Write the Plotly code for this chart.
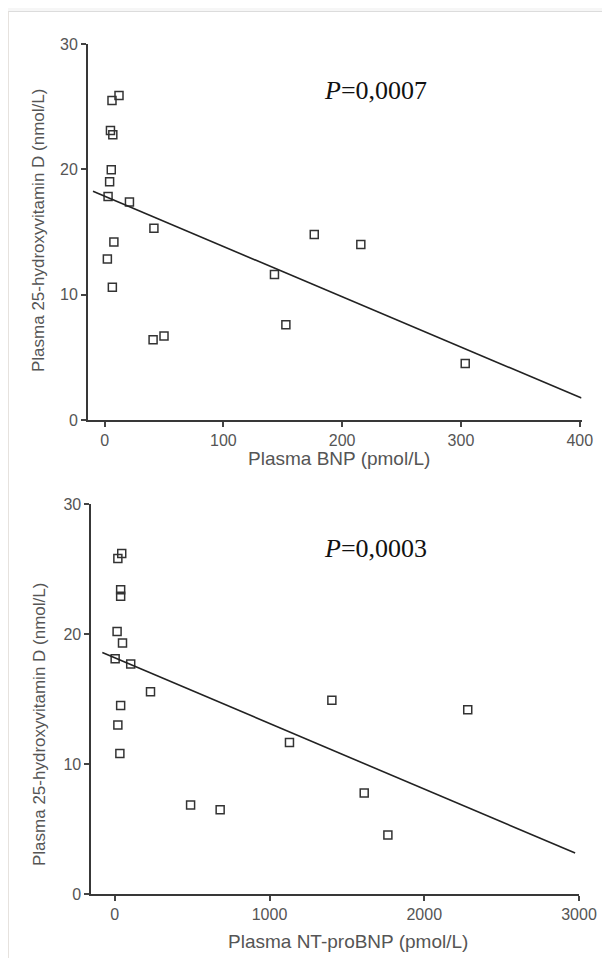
import plotly.graph_objects as go

# the page body has an 8px margin, so the figure starts at (8, 8) in the window
OFF = 8
W, H = 610 - 2 * OFF, 966 - 2 * OFF

# ---- data ----
bnp = [12.1, 6.2, 4.9, 6.9, 5.6, 4.2, 2.9, 20.9, 41.5, 7.8, 2.3, 6.5, 40.8, 50.0, 143.0, 152.6, 176.5, 215.7, 303.6]
vitd_bnp = [25.9, 25.5, 23.1, 22.75, 19.96, 19.0, 17.84, 17.4, 15.3, 14.2, 12.85, 10.6, 6.4, 6.7, 11.6, 7.6, 14.8, 14.0, 4.5]

ntprobnp = [45, 20, 38, 38, 15, 50, 2.5, 103, 231, 38, 20, 33, 490, 681, 1129, 1403, 1612, 1765, 2281]
vitd_nt = [26.2, 25.8, 23.4, 22.9, 20.2, 19.3, 18.1, 17.7, 15.55, 14.5, 13.0, 10.8, 6.84, 6.48, 11.66, 14.9, 7.76, 4.53, 14.17]

# regression lines: intercept, slope, x extent
fit_bnp_intercept, fit_bnp_slope = 17.85, -0.0401
fit_bnp_x = [-9.8, 401.5]
fit_nt_intercept, fit_nt_slope = 18.17, -0.00505
fit_nt_x = [-80.5, 2975]

x_ticks_bnp = [0, 100, 200, 300, 400]
x_ticks_nt = [0, 1000, 2000, 3000]
y_ticks = [0, 10, 20, 30]

p_text_bnp = "<i>P</i>=0,0007"
p_text_nt = "<i>P</i>=0,0003"
x_title_bnp = "Plasma BNP (pmol/L)"
x_title_nt = "Plasma NT-proBNP (pmol/L)"
y_title = "Plasma 25-hydroxyvitamin D (nmol/L)"

# ---- figure ----
def px(x):
    return (x - OFF) / W

def py(y):
    return 1 - (y - OFF) / H

fig = go.Figure()
marker = dict(symbol="square-open", size=8, color="#333", line=dict(width=1.5, color="#333"))
line = dict(color="#222", width=1.6)

fig.add_trace(go.Scatter(x=bnp, y=vitd_bnp, mode="markers", marker=marker, xaxis="x", yaxis="y", showlegend=False))
fig.add_trace(go.Scatter(x=fit_bnp_x, y=[fit_bnp_intercept + fit_bnp_slope * v for v in fit_bnp_x],
                         mode="lines", line=line, xaxis="x", yaxis="y", showlegend=False))
fig.add_trace(go.Scatter(x=ntprobnp, y=vitd_nt, mode="markers", marker=marker, xaxis="x2", yaxis="y2", showlegend=False))
fig.add_trace(go.Scatter(x=fit_nt_x, y=[fit_nt_intercept + fit_nt_slope * v for v in fit_nt_x],
                         mode="lines", line=line, xaxis="x2", yaxis="y2", showlegend=False))

tickfont = dict(family="Liberation Sans, Arial, sans-serif", size=16, color="#555")
common = dict(showline=True, linecolor="#383838", linewidth=2, ticks="outside", ticklen=5, tickwidth=1.5,
              tickcolor="#444", showgrid=False, zeroline=False, tickfont=tickfont, automargin=False)

fig.update_layout(
    width=W, height=H,
    margin=dict(l=0, r=0, t=0, b=0),
    paper_bgcolor="#f6f6f6",
    plot_bgcolor="rgba(0,0,0,0)",
    xaxis=dict(domain=[px(88), px(581.5)], range=[-14, 401.5], tickvals=x_ticks_bnp, anchor="y", **common),
    yaxis=dict(domain=[py(420), py(44)], range=[0, 30], tickvals=y_ticks, anchor="x", **common),
    xaxis2=dict(domain=[px(91.4), px(579)], range=[-151, 3000], tickvals=x_ticks_nt, anchor="y2", **common),
    yaxis2=dict(domain=[py(894), py(504)], range=[0, 30], tickvals=y_ticks, anchor="x2", **common),
    shapes=[
        dict(type="rect", xref="paper", yref="paper", x0=0, x1=1.01, y0=-0.01, y1=py(11.5),
             fillcolor="white", line=dict(width=0), layer="below"),
        dict(type="line", xref="paper", yref="paper", x0=0, x1=1, y0=py(11.5), y1=py(11.5),
             line=dict(width=1.2, color="#dcdcdc"), layer="below"),
        dict(type="line", xref="paper", yref="paper", x0=px(8.5), x1=px(8.5), y0=0, y1=py(11.5),
             line=dict(width=1, color="#e6e2de"), layer="below"),
    ],
)

titlefont = dict(family="Liberation Sans, Arial, sans-serif", size=19, color="#555")
ytitlefont = dict(family="Liberation Sans, Arial, sans-serif", size=17, color="#555")
pfont = dict(family="Liberation Serif, Times New Roman, serif", size=26, color="#111")

annotations = [
    dict(text=p_text_bnp, x=px(375), y=py(90), font=pfont),
    dict(text=p_text_nt, x=px(375), y=py(548), font=pfont),
    dict(text=x_title_bnp, x=px(339), y=py(459), font=titlefont),
    dict(text=x_title_nt, x=px(348), y=py(941), font=titlefont),
    dict(text=y_title, x=px(39), y=py(231), font=ytitlefont, textangle=-90),
    dict(text=y_title, x=px(39), y=py(725), font=ytitlefont, textangle=-90),
]
for a in annotations:
    a.update(xref="paper", yref="paper", showarrow=False, xanchor="center", yanchor="middle")
fig.update_layout(annotations=annotations)

fig.write_html("out.html")
